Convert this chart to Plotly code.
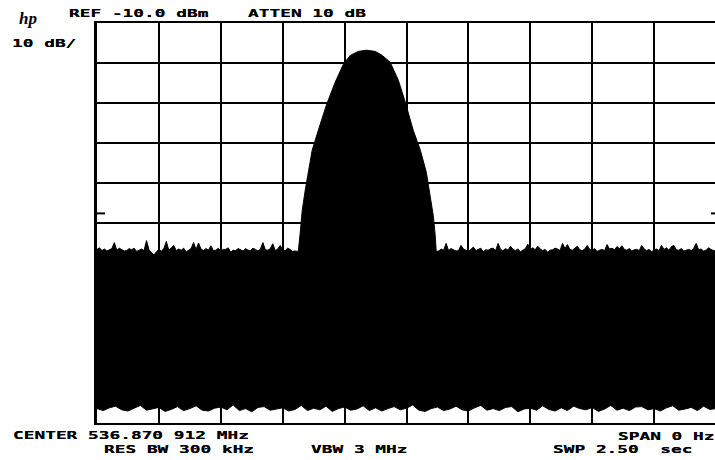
import plotly.graph_objects as go

# Analyzer settings shown on screen
REF_LEVEL_DBM = -10.0
DB_PER_DIV = 10
N_VDIV = 10
SWEEP_S = 2.50
TIME_PER_DIV = 0.25
DISPLAY_LINE_DBM = -57.6

# Upper edge of the zero-span trace, noise floor before the burst (10 ms per reading)
noise_left_dbm = [-66.6, -66.2, -66.9, -66.5, -67.0, -66.7, -66.4, -64.9, -66.8, -66.3,
                  -66.6, -67.0, -66.9, -66.4, -66.7, -66.3, -67.1, -66.8, -66.5, -66.9,
                  -64.4, -66.7, -67.4, -68.0, -67.2, -66.6, -67.0, -66.4, -64.6, -66.8,
                  -66.2, -65.6, -66.9, -66.5, -66.8, -66.3, -67.2, -66.7, -66.4, -64.9,
                  -66.6, -65.0, -66.5, -66.9, -66.4, -66.8, -65.7, -66.9, -66.8, -66.3,
                  -67.0, -66.6, -66.6, -66.2, -67.3, -66.8, -66.9, -66.4, -66.7, -67.0,
                  -66.4, -66.8, -66.9, -66.3, -66.6, -67.0, -66.5, -64.9, -66.7, -66.8,
                  -66.4, -65.2, -66.9, -66.5, -65.6, -66.8, -66.9, -66.3, -66.6, -67.1,
                  -67.0]
noise_left_t = [round(0.00 + 0.01 * i, 3) for i in range(len(noise_left_dbm))]

# RF burst envelope
burst_t = [0.813, 0.821, 0.829, 0.841, 0.853, 0.869, 0.894, 0.926, 0.962, 0.995,
           1.023, 1.055, 1.088, 1.124, 1.152, 1.184, 1.217, 1.245, 1.277, 1.306,
           1.330, 1.346, 1.358, 1.366, 1.370]
burst_dbm = [-67.1, -62.3, -56.8, -51.8, -47.3, -41.8, -36.8, -30.6, -24.8, -20.3,
             -18.1, -17.1, -16.8, -17.1, -18.1, -19.8, -24.3, -29.8, -36.8, -41.8,
             -47.3, -53.1, -58.1, -63.1, -67.1]

# Noise floor after the burst (10 ms per reading, from 1.38 s)
noise_right_dbm = [-67.0, -66.5, -66.8, -65.1, -66.9, -66.4, -66.7, -67.0, -66.9, -65.6,
                   -66.5, -66.8, -67.1, -66.6, -66.0, -66.9, -66.6, -66.3, -67.2, -66.7,
                   -66.8, -66.4, -66.3, -66.9, -65.1, -66.6, -66.9, -66.4, -66.8, -65.8,
                   -66.6, -66.9, -66.5, -67.2, -66.8, -66.4, -65.3, -66.6, -66.2, -66.7,
                   -65.8, -66.5, -66.9, -66.6, -67.3, -66.8, -66.7, -66.3, -66.5, -66.9,
                   -65.1, -66.4, -65.4, -66.6, -66.8, -66.4, -65.8, -66.7, -66.9, -66.5,
                   -65.6, -66.6, -66.8, -66.4, -67.1, -66.8, -66.6, -66.9, -65.4, -66.5,
                   -66.3, -66.7, -65.9, -66.4, -65.7, -66.6, -66.8, -66.4, -67.0, -66.7,
                   -66.6, -66.9, -65.6, -66.5, -66.9, -66.6, -67.2, -66.7, -66.5, -66.9,
                   -65.6, -66.6, -66.2, -66.8, -65.9, -65.6, -66.7, -66.8, -66.4, -67.0,
                   -66.7, -66.6, -66.9, -66.3, -65.1, -66.7, -66.5, -67.0, -66.8, -66.2,
                   -66.6, -66.9, -66.8]
noise_right_t = [round(1.38 + 0.01 * i, 3) for i in range(len(noise_right_dbm))]

# Lower edge of the trace (noise minima), one reading every 25 ms
lower_dbm = [-106.4, -106.9, -106.2, -105.8, -106.7, -107.0, -106.3, -105.6, -106.8, -106.5,
             -106.1, -107.1, -106.6, -105.9, -106.9, -106.4, -105.7, -106.8, -107.0, -106.3,
             -106.0, -106.7, -105.5, -106.9, -106.4, -107.2, -106.1, -105.9, -106.8, -106.5,
             -106.2, -107.0, -106.6, -105.6, -106.9, -106.3, -106.7, -105.8, -107.1, -106.4,
             -106.0, -106.8, -106.5, -105.7, -106.9, -106.2, -107.0, -106.4, -105.9, -106.7,
             -106.3, -105.5, -106.8, -107.1, -106.4, -106.0, -106.9, -106.5, -105.8, -106.7,
             -107.0, -106.2, -105.6, -106.8, -106.4, -106.9, -106.1, -105.9, -107.2, -106.5,
             -106.3, -106.8, -105.7, -106.6, -107.0, -106.2, -106.9, -105.8, -106.4, -106.7,
             -106.1, -107.1, -106.5, -105.6, -106.8, -106.3, -106.9, -106.0, -105.9, -106.7,
             -106.4, -107.0, -106.2, -105.7, -106.8, -106.5, -106.1, -106.9, -105.8, -106.6,
             -106.4]
lower_t = [i * SWEEP_S / (len(lower_dbm) - 1) for i in range(len(lower_dbm))]

upper_t = noise_left_t + burst_t + noise_right_t
upper_dbm = noise_left_dbm + burst_dbm + noise_right_dbm

# Screen annotations
header_texts = ["REF -10.0 dBm", "ATTEN 10 dB", "10 dB/"]
footer_texts = ["CENTER 536.870 912 MHz", "RES BW 300 kHz", "VBW 3 MHz",
                "SPAN 0 Hz", "SWP 2.50\u00a0 sec"]

W, H = 715, 460
ML, MR, MT, MB = 97, 0, 23, 37
PW, PH = W - ML - MR, H - MT - MB


def paper_xy(px, py):
    return (px - ML) / PW, (MT + PH - py) / PH


fig = go.Figure()
fig.add_trace(go.Scatter(x=lower_t, y=lower_dbm, mode="lines",
                         line=dict(color="black", width=1), hoverinfo="skip"))
fig.add_trace(go.Scatter(x=upper_t, y=upper_dbm, mode="lines", fill="tonexty",
                         fillcolor="black", line=dict(color="black", width=1),
                         hoverinfo="skip"))

mono = dict(family="DejaVu Sans Mono", size=11, color="black", weight="bold",
            shadow="0 0.5px 0 black")
label_pos = {
    "REF -10.0 dBm": (68, 13.8),
    "ATTEN 10 dB": (247, 13.8),
    "10 dB/": (11, 43.5),
    "CENTER 536.870 912 MHz": (11.5, 435.5),
    "RES BW 300 kHz": (103, 449.7),
    "VBW 3 MHz": (310, 449.7),
    "SPAN 0 Hz": (616.5, 436),
    "SWP 2.50\u00a0 sec": (551.5, 449.7),
}
annotations = []
for txt in header_texts + footer_texts:
    ax, ay = paper_xy(*label_pos[txt])
    annotations.append(dict(text=txt, x=ax, y=ay, xref="paper", yref="paper",
                            xanchor="left", yanchor="middle", align="left",
                            showarrow=False, borderpad=0, font=mono))

lx, ly = paper_xy(28, 19)
annotations.append(dict(text="<b><i>hp</i></b>", x=lx, y=ly, xref="paper", yref="paper",
                        xanchor="center", yanchor="middle", showarrow=False,
                        font=dict(family="Liberation Serif", size=17, color="black")))

# short display-line markers on both frame edges
shapes = [
    dict(type="line", xref="paper", yref="y", x0=0, x1=8 / PW,
         y0=DISPLAY_LINE_DBM, y1=DISPLAY_LINE_DBM, line=dict(color="black", width=2)),
    dict(type="line", xref="paper", yref="y", x0=1 - 4 / PW, x1=1,
         y0=DISPLAY_LINE_DBM, y1=DISPLAY_LINE_DBM, line=dict(color="black", width=2)),
]

bottom = REF_LEVEL_DBM - DB_PER_DIV * N_VDIV
fig.update_layout(
    width=W, height=H,
    margin=dict(l=ML, r=MR, t=MT, b=MB, pad=0),
    paper_bgcolor="white", plot_bgcolor="white",
    showlegend=False,
    annotations=annotations,
    shapes=shapes,
    xaxis=dict(range=[0, SWEEP_S * (PW / (PW + 1))], tick0=0, dtick=TIME_PER_DIV,
               showgrid=True, gridcolor="black", gridwidth=2, zeroline=False,
               showticklabels=False, ticks="", showline=True, linecolor="black",
               linewidth=2, mirror=True, fixedrange=True),
    yaxis=dict(range=[bottom, REF_LEVEL_DBM], tick0=bottom, dtick=DB_PER_DIV,
               showgrid=True, gridcolor="black", gridwidth=2, zeroline=False,
               showticklabels=False, ticks="", showline=True, linecolor="black",
               linewidth=3, mirror=False, fixedrange=True),
)

# widen the monospace labels horizontally, like the plotter lettering
widen_js = """
var gd = document.getElementById('{plot_id}');
function widen() {
  gd.querySelectorAll('text.annotation-text').forEach(function (t) {
    if (t.textContent.trim() === 'hp') { return; }
    t.removeAttribute('transform');
    var bb = t.getBBox();
    var k = 1.62;
    t.setAttribute('transform', 'translate(' + (bb.x * (1 - k)) + ',0) scale(' + k + ',1)');
  });
}
widen();
gd.on('plotly_afterplot', widen);
"""

fig.write_html("out.html", post_script=widen_js, config={"displayModeBar": False})
